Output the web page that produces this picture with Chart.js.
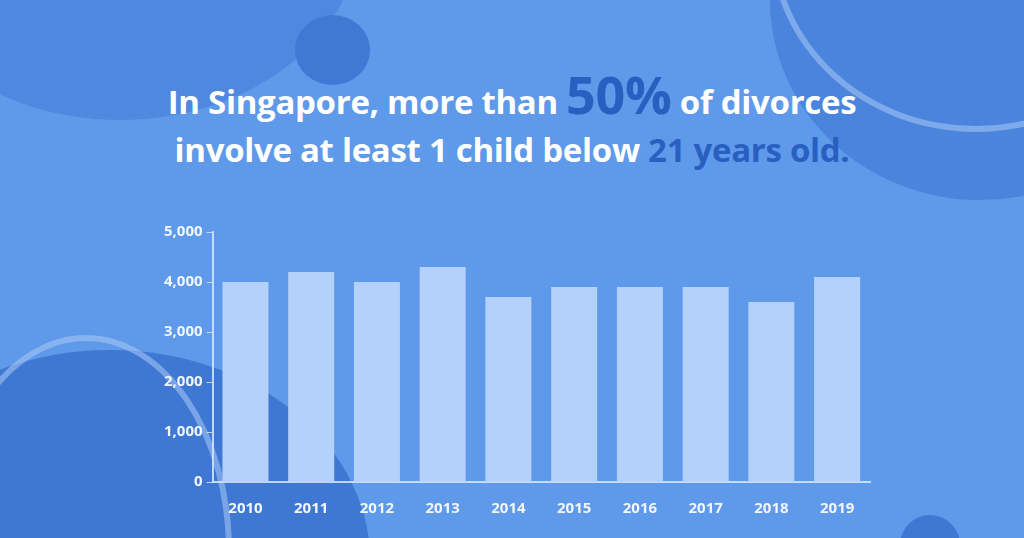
<!DOCTYPE html>
<html>
<head>
<meta charset="utf-8">
<script src="https://cdn.jsdelivr.net/npm/chart.js@4"></script>
<style>
  html, body { margin: 0; padding: 0; }
  body { width: 1024px; height: 538px; overflow: hidden; position: relative; background: #5e99ea; font-family: "Open Sans", sans-serif; }
  .blob { position: absolute; background: #4a84dc; border-radius: 50%; }
  .ring { position: absolute; border: 6px solid rgba(170, 200, 245, 0.55); border-radius: 50%; }
  #title { position: absolute; left: 0; width: 1024px; top: 70px; text-align: center; color: #fff; font-weight: 700; font-size: 33px; line-height: 48px; letter-spacing: -0.3px; }
  #title .big { color: #2a5fc2; font-size: 52px; }
  #title .dk { color: #2a5fc2; }
  #chart { position: absolute; left: 0; top: 0; }
</style>
</head>
<body>
<div class="blob" style="left:-120px;top:-260px;width:480px;height:380px;background:#4f88de;"></div>
<div class="blob" style="left:295px;top:15px;width:75px;height:70px;background:#4078d6;"></div>
<div class="blob" style="left:770px;top:-200px;width:420px;height:400px;background:#4a84dc;"></div>
<div class="ring" style="left:770px;top:-250px;width:400px;height:370px;"></div>
<div class="blob" style="left:-150px;top:350px;width:520px;height:420px;background:#3f78d2;"></div>
<div class="ring" style="left:-60px;top:335px;width:280px;height:420px;"></div>
<div class="blob" style="left:900px;top:515px;width:60px;height:60px;background:#3f78d2;"></div>
<div id="title">In Singapore, more than <span class="big">50%</span> of divorces<br>involve at least 1 child below <span class="dk">21 years old.</span></div>
<canvas id="chart" width="1024" height="538"></canvas>
<script>
const years = ["2010", "2011", "2012", "2013", "2014", "2015", "2016", "2017", "2018", "2019"];
const divorces = [4000, 4200, 4000, 4300, 3700, 3900, 3900, 3900, 3600, 4100];
const yTicks = [0, 1000, 2000, 3000, 4000, 5000];

const axisColor = "rgba(215, 230, 250, 0.85)";

new Chart(document.getElementById("chart"), {
  type: "bar",
  data: {
    labels: years,
    datasets: [{ data: divorces, backgroundColor: "#b3d1fb", barPercentage: 0.7, categoryPercentage: 1 }]
  },
  options: {
    responsive: false,
    animation: false,
    layout: { padding: { left: 160, top: 232, right: 154, bottom: 10 } },
    plugins: { legend: { display: false }, tooltip: { enabled: false } },
    scales: {
      x: {
        grid: { display: false, drawTicks: true },
        border: { color: axisColor, width: 2 },
        ticks: { color: "#f2f6fd", font: { family: "Open Sans", weight: "bold", size: 15 }, padding: 10 }
      },
      y: {
        min: 0, max: 5000,
        afterBuildTicks: axis => { axis.ticks = yTicks.map(v => ({ value: v })); },
        grid: { display: true, drawOnChartArea: false, color: axisColor, tickLength: 6 },
        border: { color: axisColor, width: 2 },
        ticks: { color: "#f2f6fd", font: { family: "Open Sans", weight: "bold", size: 15 }, padding: 4,
          callback: v => v.toLocaleString("en-US") }
      }
    }
  }
});
</script>
</body>
</html>
